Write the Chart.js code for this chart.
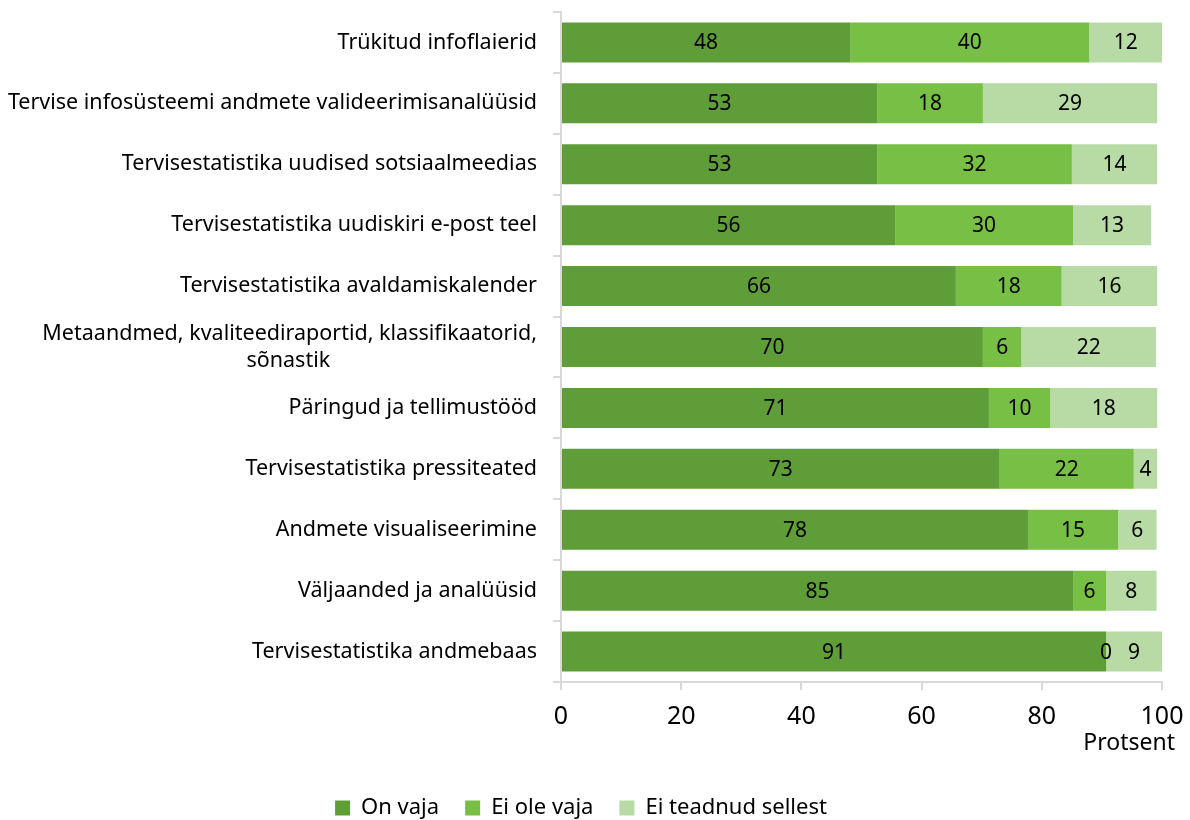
<!DOCTYPE html>
<html>
<head>
<meta charset="utf-8">
<script src="https://cdn.jsdelivr.net/npm/chart.js@4/dist/chart.umd.min.js"></script>
<style>
  body { margin: 0; background: #fff; overflow: hidden; }
</style>
</head>
<body>
<canvas id="bar-chart" width="1190" height="820"></canvas>
<script>
const FONT = "'Noto Sans'";

const categories = [
  "Trükitud infoflaierid",
  "Tervise infosüsteemi andmete valideerimisanalüüsid",
  "Tervisestatistika uudised sotsiaalmeedias",
  "Tervisestatistika uudiskiri e-post teel",
  "Tervisestatistika avaldamiskalender",
  ["Metaandmed, kvaliteediraportid, klassifikaatorid,", "sõnastik"],
  "Päringud ja tellimustööd",
  "Tervisestatistika pressiteated",
  "Andmete visualiseerimine",
  "Väljaanded ja analüüsid",
  "Tervisestatistika andmebaas"
];
const onVaja = [48.1, 52.6, 52.6, 55.6, 65.7, 70.2, 71.2, 73.0, 77.7, 85.2, 90.7];
const eiOleVaja = [39.8, 17.6, 32.4, 29.6, 17.6, 6.4, 10.2, 22.3, 15.0, 5.5, 0];
const eiTeadnud = [12.1, 29.0, 14.2, 13.0, 15.9, 22.4, 17.8, 3.9, 6.4, 8.4, 9.3];
const seriesNames = ["On vaja", "Ei ole vaja", "Ei teadnud sellest"];
const xTicks = [0, 20, 40, 60, 80, 100];

// center the second line of the wrapped label under the first one
const mctx = document.createElement("canvas").getContext("2d");
mctx.font = "21.5px " + FONT;
const labels = categories.map(c => {
  if (!Array.isArray(c)) return c;
  const w0 = mctx.measureText(c[0]).width;
  let s = c[1];
  while (mctx.measureText(s).width < (w0 + mctx.measureText(c[1]).width) / 2) s += " ";
  return [c[0], s];
});

const valueLabels = {
  id: "valueLabels",
  afterDatasetsDraw(chart) {
    const ctx = chart.ctx;
    ctx.save();
    ctx.font = "21px " + FONT;
    ctx.fillStyle = "#000";
    ctx.textAlign = "center";
    ctx.textBaseline = "middle";
    chart.data.datasets.forEach((ds, i) => {
      chart.getDatasetMeta(i).data.forEach((bar, j) => {
        const p = bar.getProps(["x", "base", "y"], true);
        ctx.fillText(Math.round(ds.data[j]), (p.x + p.base) / 2, p.y + 1);
      });
    });
    ctx.restore();
  }
};

const axisTitle = {
  id: "axisTitle",
  afterLayout(chart) {
    chart.legend.top += 9;   // push the legend a bit lower
  },
  afterDraw(chart) {
    const ctx = chart.ctx;
    ctx.save();
    ctx.font = "23px " + FONT;
    ctx.fillStyle = "#000";
    ctx.textAlign = "right";
    ctx.textBaseline = "middle";
    ctx.fillText("Protsent", 1175, 743);
    ctx.restore();
  }
};

const colors = ["#5f9d39", "#77bf45", "#b8dba6"];

new Chart(document.getElementById("bar-chart"), {
  type: "bar",
  data: {
    labels: labels,
    datasets: [onVaja, eiOleVaja, eiTeadnud].map((d, i) => ({
      label: seriesNames[i],
      data: d,
      backgroundColor: colors[i],
      borderWidth: 0,
      barPercentage: 0.657,
      categoryPercentage: 1
    }))
  },
  options: {
    indexAxis: "y",
    responsive: false,
    animation: false,
    layout: { padding: { top: 12, right: 28, left: 0, bottom: 0 } },
    scales: {
      x: {
        stacked: true,
        min: 0,
        max: 100,
        afterBuildTicks: s => { s.ticks = xTicks.map(v => ({ value: v })); },
        afterFit: s => { s.height = 80; s.paddingLeft = 0; s.paddingRight = 0; },
        grid: { drawOnChartArea: false, drawTicks: true, tickLength: 8, color: "#d9d9d9", lineWidth: 2 },
        border: { display: true, color: "#d9d9d9", width: 2 },
        ticks: { color: "#000", font: { family: FONT, size: 25 }, padding: 12, maxRotation: 0 }
      },
      y: {
        stacked: true,
        afterFit: s => { s.width = 561; s.paddingTop = 0; s.paddingBottom = 0; },
        grid: { offset: true, drawOnChartArea: false, drawTicks: true, tickLength: 8, color: "#d9d9d9", lineWidth: 2 },
        border: { display: true, color: "#d9d9d9", width: 2 },
        ticks: { color: "#000", font: { family: FONT, size: 21.5, lineHeight: 1.25 }, padding: 16, autoSkip: false }
      }
    },
    plugins: {
      tooltip: { enabled: false },
      legend: {
        position: "bottom",
        labels: {
          color: "#000",
          font: { family: FONT, size: 22 },
          boxWidth: 15,
          boxHeight: 15,
          padding: 26
        }
      }
    }
  },
  plugins: [valueLabels, axisTitle]
});
</script>
</body>
</html>
